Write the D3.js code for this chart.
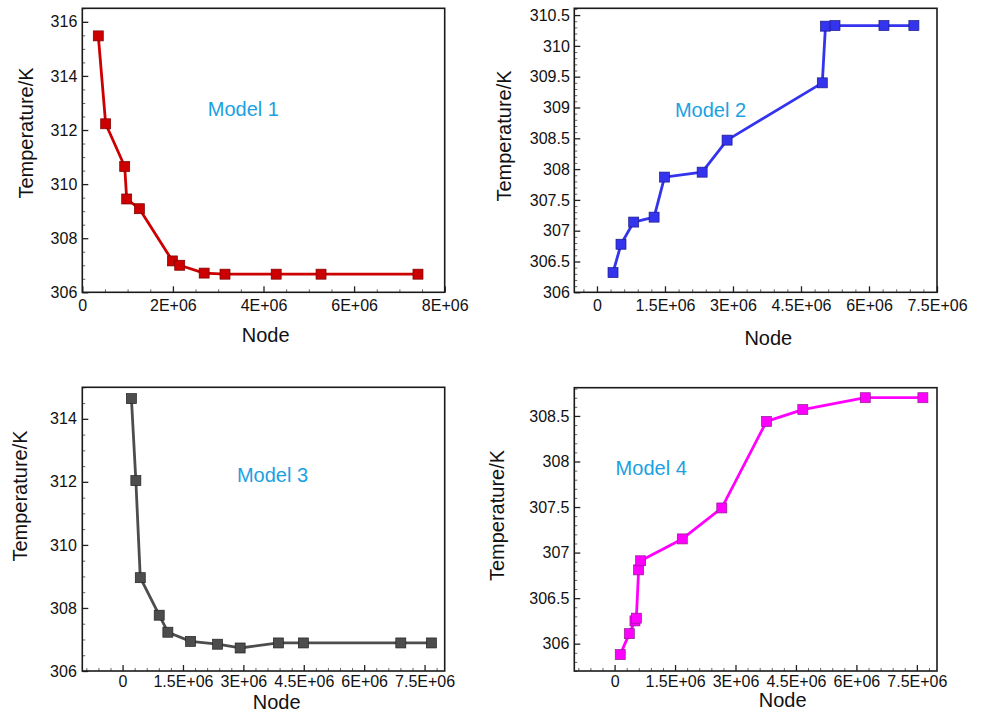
<!DOCTYPE html>
<html>
<head>
<meta charset="utf-8">
<script src="https://cdn.jsdelivr.net/npm/d3@7"></script>
<style>
  html, body { margin: 0; padding: 0; background: #fff; }
  svg { display: block; font-family: "Liberation Sans", Arial, Helvetica, sans-serif; }
  .tick text { fill: #111; }
</style>
</head>
<body>
<div id="chart"></div>
<script>
// Values
let nodes1 = [0.353e6, 0.516e6, 0.936e6, 0.98e6, 1.26e6, 1.99e6, 2.15e6, 2.69e6, 3.15e6, 4.28e6, 5.27e6, 7.41e6];
let temps1 = [315.48, 312.23, 310.65, 309.45, 309.09, 307.16, 307.0, 306.71, 306.67, 306.67, 306.67, 306.67];

let nodes2 = [0.354e6, 0.53e6, 0.81e6, 1.26e6, 1.49e6, 2.32e6, 2.87e6, 4.97e6, 5.04e6, 5.25e6, 6.33e6, 6.99e6];
let temps2 = [306.32, 306.78, 307.14, 307.22, 307.87, 307.95, 308.47, 309.4, 310.32, 310.33, 310.33, 310.33];

let nodes3 = [0.22e6, 0.33e6, 0.44e6, 0.91e6, 1.125e6, 1.69e6, 2.36e6, 2.92e6, 3.87e6, 4.49e6, 6.91e6, 7.67e6];
let temps3 = [314.64, 312.04, 308.96, 307.77, 307.23, 306.94, 306.85, 306.73, 306.89, 306.89, 306.89, 306.89];

let nodes4 = [0.14e6, 0.365e6, 0.505e6, 0.54e6, 0.596e6, 0.646e6, 1.68e6, 2.66e6, 3.77e6, 4.67e6, 6.22e6, 7.65e6];
let temps4 = [305.88, 306.11, 306.25, 306.28, 306.81, 306.91, 307.15, 307.49, 308.44, 308.57, 308.7, 308.7];

// Tick labels
let xTicks1 = [0, 2e6, 4e6, 6e6, 8e6];
let xTicks234 = [0, 1.5e6, 3e6, 4.5e6, 6e6, 7.5e6];
let yTicks1 = [306, 308, 310, 312, 314, 316];
let yTicks2 = [306, 306.5, 307, 307.5, 308, 308.5, 309, 309.5, 310, 310.5];
let yTicks3 = [306, 308, 310, 312, 314];
let yTicks4 = [306, 306.5, 307, 307.5, 308, 308.5];

let modelNames = ["Model 1", "Model 2", "Model 3", "Model 4"];

let width = 983, height = 713;

// panel layout (frame box in page pixels) + scales setup
let panels = [
  { nodes: nodes1, temps: temps1, name: modelNames[0], color: "#cc0000", edge: "#7a0000",
    box: { left: 82.3, top: 8.3, w: 362.4, h: 284 },
    xDom: [0, 8e6], yDom: [306, 316.5], xTicks: xTicks1, yTicks: yTicks1,
    xMinor: 0.5e6, yMinor: 0.5, xPad: 7, yPad: 5,
    label: [2.77e6, 312.5], yTitle: { x: 32.5, y: 133 }, xTitle: { x: 265.7, y: 341.7 } },
  { nodes: nodes2, temps: temps2, name: modelNames[1], color: "#3434ee", edge: "#1a1a88",
    box: { left: 574.3, top: 8.3, w: 362.7, h: 284 },
    xDom: [-0.5e6, 7.5e6], yDom: [306, 310.61], xTicks: xTicks234, yTicks: yTicks2,
    xMinor: 0.3e6, yMinor: 0.1, xPad: 7.5, yPad: 4.5,
    label: [1.72e6, 308.84], yTitle: { x: 510.5, y: 136 }, xTitle: { x: 768.3, y: 345 } },
  { nodes: nodes3, temps: temps3, name: modelNames[2], color: "#4d4d4d", edge: "#222222",
    box: { left: 82.3, top: 387.3, w: 362.4, h: 283.7 },
    xDom: [-1e6, 8e6], yDom: [306, 315], xTicks: xTicks234, yTicks: yTicks3,
    xMinor: 0.3e6, yMinor: 0.5, xPad: 4.5, yPad: 5.5,
    label: [2.84e6, 312.0], yTitle: { x: 26.5, y: 496 }, xTitle: { x: 276.7, y: 708.5 } },
  { nodes: nodes4, temps: temps4, name: modelNames[3], color: "#ff00ff", edge: "#8a208a",
    box: { left: 574.3, top: 387.7, w: 362.7, h: 283.3 },
    xDom: [-1e6, 8e6], yDom: [305.7, 308.81], xTicks: xTicks234, yTicks: yTicks4,
    xMinor: 0.3e6, yMinor: 0.1, xPad: 4.5, yPad: 5,
    label: [0.025e6, 307.85], yTitle: { x: 504, y: 515.5 }, xTitle: { x: 782.7, y: 706.5 } }
];

var svg = d3
  .select("#chart")
  .append("svg")
  .attr("width", width)
  .attr("height", height)
  .style("background-color", "white");

// E-notation like the original: 0, 1.5E+06, 2E+06 ...
let nodeFormat = (v) => (v === 0 ? "0" : (v / 1e6) + "E+06");

// minor tick values that are multiples of step, skipping majors
function minorTicks(dom, step, majors) {
  let lo = Math.ceil(dom[0] / step - 1e-6), hi = Math.floor(dom[1] / step + 1e-6);
  return d3.range(lo, hi + 1)
    .map((i) => +(i * step).toFixed(6))
    .filter((v) => !majors.some((m) => Math.abs(m - v) < step / 10));
}

panels.forEach((p) => {
  let b = p.box;
  let x = d3.scaleLinear().domain(p.xDom).range([0, b.w]);
  let y = d3.scaleLinear().domain(p.yDom).range([b.h, 0]);

  let g = svg.append("g").attr("transform", "translate(" + b.left + "," + b.top + ")");

  // minor ticks
  g.append("g")
    .attr("transform", "translate(0," + b.h + ")")
    .call(d3.axisBottom(x).tickValues(minorTicks(p.xDom, p.xMinor, p.xTicks)).tickSize(-3).tickFormat(""))
    .call((a) => a.select(".domain").remove())
    .selectAll("line").attr("stroke", "#666");
  g.append("g")
    .call(d3.axisLeft(y).tickValues(minorTicks(p.yDom, p.yMinor, p.yTicks)).tickSize(-3).tickFormat(""))
    .call((a) => a.select(".domain").remove())
    .selectAll("line").attr("stroke", "#666");

  // X axis
  let xAxis = g.append("g")
    .attr("transform", "translate(0," + b.h + ")")
    .call(d3.axisBottom(x).tickValues(p.xTicks).tickSize(-6).tickPadding(p.xPad).tickFormat(nodeFormat));
  xAxis.select(".domain").remove();
  xAxis.selectAll("line").attr("stroke", "#222").attr("stroke-width", 1.3);
  xAxis.selectAll("text").style("font-size", "16px");

  // Y axis
  let yAxis = g.append("g")
    .call(d3.axisLeft(y).tickValues(p.yTicks).tickSize(-6).tickPadding(p.yPad).tickFormat((d) => String(d)));
  yAxis.select(".domain").remove();
  yAxis.selectAll("line").attr("stroke", "#222").attr("stroke-width", 1.3);
  yAxis.selectAll("text").style("font-size", "16px");

  // frame
  g.append("rect")
    .attr("width", b.w)
    .attr("height", b.h)
    .attr("fill", "none")
    .attr("stroke", "#1a1a1a")
    .attr("stroke-width", 1.6);

  let pts = p.nodes.map((n, i) => ({ n: n, t: p.temps[i] }));

  // line
  g.append("path")
    .datum(pts)
    .attr("fill", "none")
    .attr("stroke", p.color)
    .attr("stroke-width", 2.8)
    .attr("stroke-linejoin", "round")
    .attr("d", d3.line().x((d) => x(d.n)).y((d) => y(d.t)));

  // square markers
  g.selectAll(".mark")
    .data(pts)
    .join("rect")
    .attr("class", "mark")
    .attr("x", (d) => x(d.n) - 5)
    .attr("y", (d) => y(d.t) - 5)
    .attr("width", 10)
    .attr("height", 10)
    .attr("fill", p.color)
    .attr("stroke", p.edge)
    .attr("stroke-width", 0.7);

  // model label
  g.append("text")
    .attr("x", x(p.label[0]))
    .attr("y", y(p.label[1]))
    .attr("fill", "#1ba1e2")
    .style("font-size", "20px")
    .text(p.name);

  // axis titles
  svg.append("text")
    .attr("transform", "translate(" + p.yTitle.x + "," + p.yTitle.y + ") rotate(-90)")
    .attr("text-anchor", "middle")
    .attr("fill", "#111")
    .style("font-size", "20px")
    .text("Temperature/K");

  svg.append("text")
    .attr("x", p.xTitle.x)
    .attr("y", p.xTitle.y)
    .attr("text-anchor", "middle")
    .attr("fill", "#111")
    .style("font-size", "20px")
    .text("Node");
});
</script>
</body>
</html>
